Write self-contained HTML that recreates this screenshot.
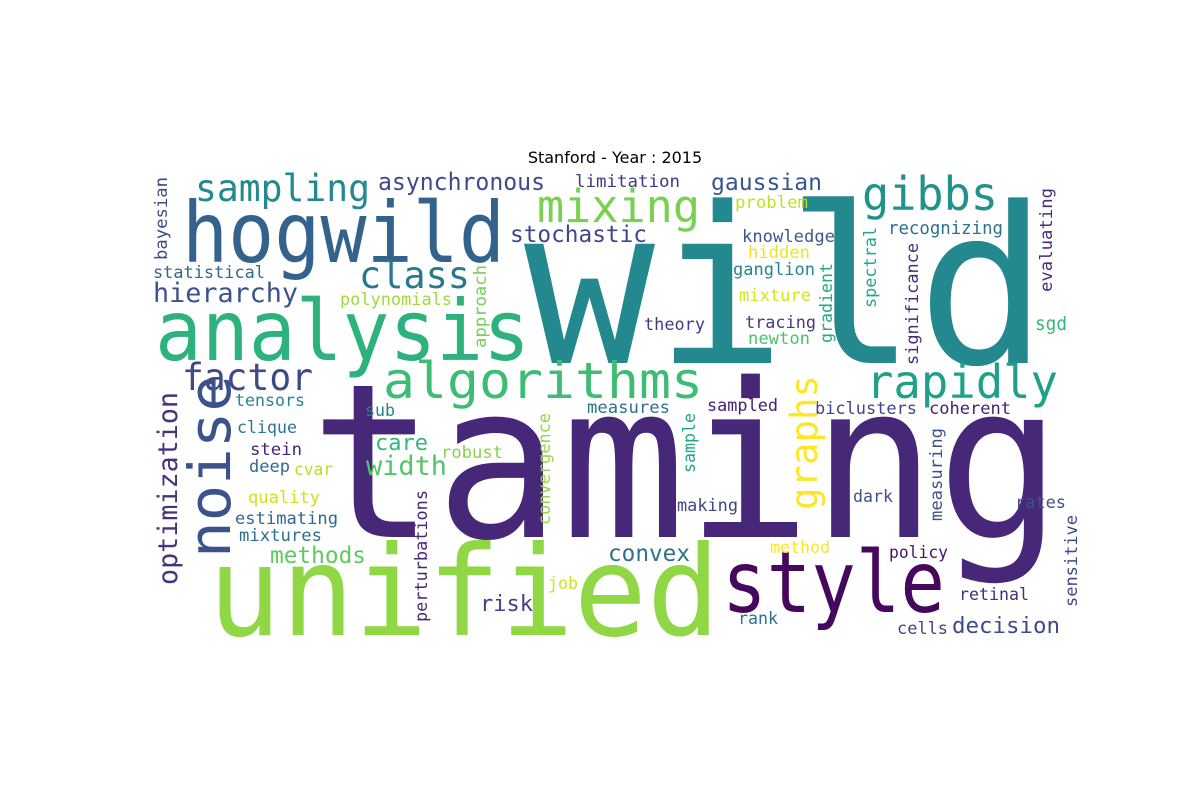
<!DOCTYPE html>
<html><head><meta charset="utf-8"><title>Stanford - Year : 2015 word cloud</title>
<style>
html,body{margin:0;padding:0;background:#fff;}
svg{display:block;}
.w{font-family:"DejaVu Sans Mono","Liberation Mono",monospace;}
</style></head>
<body>
<svg width="1200" height="800" viewBox="0 0 1200 800">
<rect width="1200" height="800" fill="#fff"/>
<text x="615" y="163" text-anchor="middle" font-family="DejaVu Sans, Liberation Sans, sans-serif" font-size="16" fill="#000">Stanford - Year : 2015</text>
<g class="w">
<text x="524" y="363" font-size="218" fill="#23898e" textLength="524" lengthAdjust="spacingAndGlyphs">wild</text>
<text x="310" y="537" font-size="215" fill="#472878" textLength="752" lengthAdjust="spacingAndGlyphs">taming</text>
<text x="182" y="262" font-size="84" fill="#33638d" textLength="323" lengthAdjust="spacingAndGlyphs">hogwild</text>
<text x="155" y="360" font-size="84" fill="#2db27d" textLength="375" lengthAdjust="spacingAndGlyphs">analysis</text>
<text x="208" y="635" font-size="125" fill="#8fd744" textLength="512" lengthAdjust="spacingAndGlyphs">unified</text>
<text x="722" y="612" font-size="86" fill="#46085c" textLength="223" lengthAdjust="spacingAndGlyphs">style</text>
<text x="383" y="398" font-size="50" fill="#3dbc74" textLength="320" lengthAdjust="spacingAndGlyphs">algorithms</text>
<text x="866" y="398" font-size="46" fill="#1fa088" textLength="192" lengthAdjust="spacingAndGlyphs">rapidly</text>
<text x="537" y="222" font-size="45" fill="#7ad151" textLength="163" lengthAdjust="spacingAndGlyphs">mixing</text>
<text x="862" y="210" font-size="46" fill="#21918c" textLength="136" lengthAdjust="spacingAndGlyphs">gibbs</text>
<text x="195" y="201" font-size="37" fill="#23898e" textLength="175" lengthAdjust="spacingAndGlyphs">sampling</text>
<text x="378" y="190" font-size="24" fill="#3e4a89" textLength="167" lengthAdjust="spacingAndGlyphs">asynchronous</text>
<text x="359" y="288" font-size="37" fill="#2a788e" textLength="111" lengthAdjust="spacingAndGlyphs">class</text>
<text x="153" y="302" font-size="27" fill="#3b528b" textLength="145" lengthAdjust="spacingAndGlyphs">hierarchy</text>
<text x="153" y="278" font-size="17" fill="#31688e" textLength="112" lengthAdjust="spacingAndGlyphs">statistical</text>
<text x="182" y="390" font-size="37" fill="#3e4989" textLength="131" lengthAdjust="spacingAndGlyphs">factor</text>
<text x="340" y="305" font-size="17" fill="#a0da39" textLength="112" lengthAdjust="spacingAndGlyphs">polynomials</text>
<text x="510" y="242" font-size="23" fill="#404688" textLength="137" lengthAdjust="spacingAndGlyphs">stochastic</text>
<text x="575" y="187" font-size="17" fill="#453781" textLength="105" lengthAdjust="spacingAndGlyphs">limitation</text>
<text x="711" y="190" font-size="23" fill="#39568c" textLength="111" lengthAdjust="spacingAndGlyphs">gaussian</text>
<text x="735" y="208" font-size="17" fill="#c2df23" textLength="73" lengthAdjust="spacingAndGlyphs">problem</text>
<text x="742" y="242" font-size="17" fill="#38598c" textLength="93" lengthAdjust="spacingAndGlyphs">knowledge</text>
<text x="888" y="234" font-size="18" fill="#2c728e" textLength="115" lengthAdjust="spacingAndGlyphs">recognizing</text>
<text x="748" y="258" font-size="17" fill="#f0e51d" textLength="62" lengthAdjust="spacingAndGlyphs">hidden</text>
<text x="733" y="275" font-size="17" fill="#25858e" textLength="82" lengthAdjust="spacingAndGlyphs">ganglion</text>
<text x="739" y="301" font-size="17" fill="#dae319" textLength="72" lengthAdjust="spacingAndGlyphs">mixture</text>
<text x="644" y="330" font-size="17" fill="#443983" textLength="61" lengthAdjust="spacingAndGlyphs">theory</text>
<text x="745" y="328" font-size="17" fill="#443a83" textLength="71" lengthAdjust="spacingAndGlyphs">tracing</text>
<text x="748" y="344" font-size="17" fill="#4ac16d" textLength="62" lengthAdjust="spacingAndGlyphs">newton</text>
<text x="1035" y="330" font-size="19" fill="#35b779" textLength="32" lengthAdjust="spacingAndGlyphs">sgd</text>
<text x="235" y="406" font-size="17" fill="#24868e" textLength="70" lengthAdjust="spacingAndGlyphs">tensors</text>
<text x="237" y="433" font-size="17" fill="#2a788e" textLength="60" lengthAdjust="spacingAndGlyphs">clique</text>
<text x="250" y="455" font-size="17" fill="#482576" textLength="52" lengthAdjust="spacingAndGlyphs">stein</text>
<text x="249" y="472" font-size="17" fill="#306a8e" textLength="41" lengthAdjust="spacingAndGlyphs">deep</text>
<text x="294" y="475" font-size="17" fill="#b5de2b" textLength="39" lengthAdjust="spacingAndGlyphs">cvar</text>
<text x="248" y="503" font-size="17" fill="#cde11d" textLength="72" lengthAdjust="spacingAndGlyphs">quality</text>
<text x="235" y="524" font-size="17" fill="#31688e" textLength="103" lengthAdjust="spacingAndGlyphs">estimating</text>
<text x="239" y="541" font-size="17" fill="#2e6e8e" textLength="83" lengthAdjust="spacingAndGlyphs">mixtures</text>
<text x="375" y="450" font-size="22" fill="#35b779" textLength="53" lengthAdjust="spacingAndGlyphs">care</text>
<text x="366" y="475" font-size="27" fill="#52c569" textLength="81" lengthAdjust="spacingAndGlyphs">width</text>
<text x="270" y="563" font-size="23" fill="#5ec962" textLength="96" lengthAdjust="spacingAndGlyphs">methods</text>
<text x="441" y="458" font-size="17" fill="#86d549" textLength="62" lengthAdjust="spacingAndGlyphs">robust</text>
<text x="365" y="416" font-size="17" fill="#26828e" textLength="30" lengthAdjust="spacingAndGlyphs">sub</text>
<text x="587" y="413" font-size="17" fill="#2c728e" textLength="83" lengthAdjust="spacingAndGlyphs">measures</text>
<text x="707" y="411" font-size="17" fill="#482071" textLength="71" lengthAdjust="spacingAndGlyphs">sampled</text>
<text x="815" y="414" font-size="17" fill="#414487" textLength="102" lengthAdjust="spacingAndGlyphs">biclusters</text>
<text x="929" y="414" font-size="17" fill="#481f70" textLength="82" lengthAdjust="spacingAndGlyphs">coherent</text>
<text x="853" y="502" font-size="17" fill="#3b528b" textLength="40" lengthAdjust="spacingAndGlyphs">dark</text>
<text x="677" y="511" font-size="17" fill="#3f4788" textLength="61" lengthAdjust="spacingAndGlyphs">making</text>
<text x="1015" y="508" font-size="17" fill="#3b528b" textLength="51" lengthAdjust="spacingAndGlyphs">rates</text>
<text x="608" y="561" font-size="23" fill="#2d708e" textLength="82" lengthAdjust="spacingAndGlyphs">convex</text>
<text x="770" y="553" font-size="17" fill="#fde725" textLength="60" lengthAdjust="spacingAndGlyphs">method</text>
<text x="889" y="558" font-size="17" fill="#481467" textLength="59" lengthAdjust="spacingAndGlyphs">policy</text>
<text x="480" y="611" font-size="22" fill="#424086" textLength="53" lengthAdjust="spacingAndGlyphs">risk</text>
<text x="548" y="589" font-size="17" fill="#d2e21b" textLength="30" lengthAdjust="spacingAndGlyphs">job</text>
<text x="959" y="600" font-size="17" fill="#472d7b" textLength="70" lengthAdjust="spacingAndGlyphs">retinal</text>
<text x="738" y="624" font-size="17" fill="#2c728e" textLength="40" lengthAdjust="spacingAndGlyphs">rank</text>
<text x="897" y="634" font-size="17" fill="#414487" textLength="51" lengthAdjust="spacingAndGlyphs">cells</text>
<text x="952" y="633" font-size="22" fill="#3e4a89" textLength="108" lengthAdjust="spacingAndGlyphs">decision</text>
<!-- vertical words -->
<text transform="translate(230,558) rotate(-90)" font-size="58" fill="#3b528b" textLength="183" lengthAdjust="spacingAndGlyphs">noise</text>
<text transform="translate(177,585) rotate(-90)" font-size="27" fill="#46327e" textLength="193" lengthAdjust="spacingAndGlyphs">optimization</text>
<text transform="translate(167,260) rotate(-90)" font-size="17" fill="#3e4a89" textLength="83" lengthAdjust="spacingAndGlyphs">bayesian</text>
<text transform="translate(486,348) rotate(-90)" font-size="17" fill="#75d054" textLength="83" lengthAdjust="spacingAndGlyphs">approach</text>
<text transform="translate(817,510) rotate(-90)" font-size="37" fill="#fde725" textLength="135" lengthAdjust="spacingAndGlyphs">graphs</text>
<text transform="translate(550,525) rotate(-90)" font-size="17" fill="#93d741" textLength="112" lengthAdjust="spacingAndGlyphs">convergence</text>
<text transform="translate(427,622) rotate(-90)" font-size="17" fill="#482576" textLength="132" lengthAdjust="spacingAndGlyphs">perturbations</text>
<text transform="translate(695,473) rotate(-90)" font-size="17" fill="#22a884" textLength="60" lengthAdjust="spacingAndGlyphs">sample</text>
<text transform="translate(832,343) rotate(-90)" font-size="17" fill="#25ab82" textLength="80" lengthAdjust="spacingAndGlyphs">gradient</text>
<text transform="translate(876,308) rotate(-90)" font-size="17" fill="#22a884" textLength="81" lengthAdjust="spacingAndGlyphs">spectral</text>
<text transform="translate(918,365) rotate(-90)" font-size="17" fill="#482878" textLength="122" lengthAdjust="spacingAndGlyphs">significance</text>
<text transform="translate(1052,292) rotate(-90)" font-size="17" fill="#472c7a" textLength="104" lengthAdjust="spacingAndGlyphs">evaluating</text>
<text transform="translate(942,521) rotate(-90)" font-size="17" fill="#3b528b" textLength="93" lengthAdjust="spacingAndGlyphs">measuring</text>
<text transform="translate(1077,607) rotate(-90)" font-size="17" fill="#3f4889" textLength="92" lengthAdjust="spacingAndGlyphs">sensitive</text>
</g>
</svg>
</body></html>
